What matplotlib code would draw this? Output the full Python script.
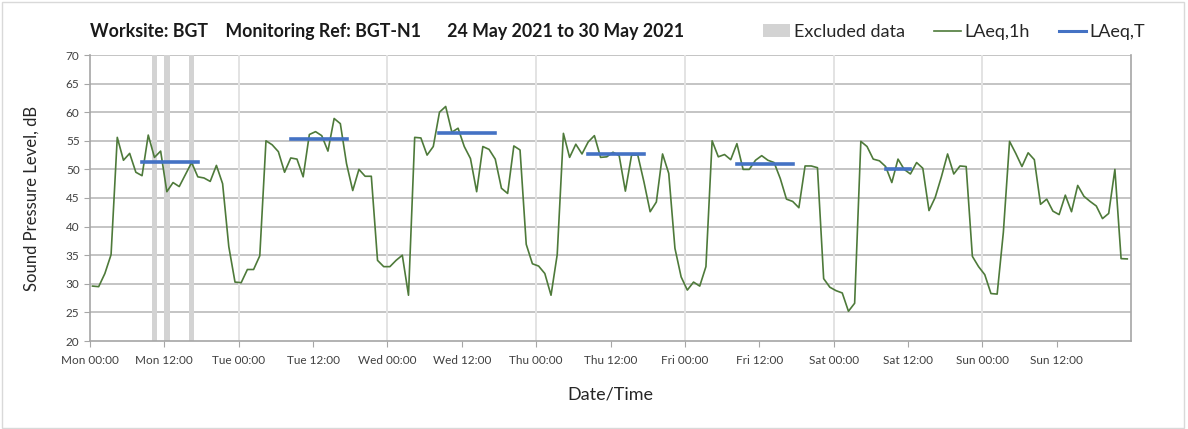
import matplotlib

matplotlib.use("Agg")
import matplotlib.pyplot as plt
import numpy as np
from matplotlib.lines import Line2D
from matplotlib.patches import Patch, Rectangle

plt.rcParams["font.family"] = ["Lato", "DejaVu Sans"]

# hourly LAeq,1h values, Mon 00:00 .. Sun 23:00
laeq_1h = [
    29.6, 29.5, 31.8, 35.1, 55.6, 51.6, 52.8, 49.5, 48.9, 56.0, 52.1, 53.2,
    46.1, 47.7, 47.0, 49.1, 51.2, 48.7, 48.5, 47.9, 50.7, 47.5, 36.5, 30.3,
    30.2, 32.5, 32.5, 34.9, 55.0, 54.3, 53.1, 49.5, 52.0, 51.8, 48.7, 56.1,
    56.6, 55.9, 53.2, 58.9, 58.0, 51.0, 46.3, 50.0, 48.8, 48.8, 34.1, 33.0,
    33.0, 34.1, 35.0, 28.0, 55.6, 55.5, 52.5, 54.0, 60.0, 61.0, 56.5, 57.2,
    54.0, 51.9, 46.1, 54.0, 53.5, 51.8, 46.7, 45.8, 54.1, 53.4, 36.9, 33.5,
    33.1, 31.8, 28.0, 35.1, 56.3, 52.1, 54.4, 52.7, 54.8, 55.9, 52.1, 52.2,
    53.0, 52.4, 46.2, 52.5, 52.5, 47.8, 42.6, 44.3, 52.7, 49.3, 36.2, 31.2,
    28.9, 30.3, 29.6, 33.0, 55.0, 52.2, 52.6, 51.7, 54.5, 50.0, 50.0, 51.6,
    52.4, 51.6, 51.2, 48.4, 44.8, 44.4, 43.3, 50.6, 50.6, 50.3, 30.9, 29.4,
    28.8, 28.4, 25.2, 26.6, 54.9, 54.0, 51.8, 51.5, 50.5, 47.7, 51.8, 50.0,
    49.2, 51.2, 50.2, 42.8, 45.1, 48.7, 52.7, 49.2, 50.6, 50.5, 34.8, 33.0,
    31.6, 28.3, 28.2, 39.0, 54.9, 52.8, 50.5, 52.9, 51.7, 43.9, 44.8, 42.7,
    42.1, 45.5, 42.6, 47.2, 45.3, 44.4, 43.6, 41.4, 42.3, 50.0, 34.4, 34.35,
]

# LAeq,T per day: day index, first hour, last hour, level
period_day = [0, 1, 2, 3, 4, 5]
period_start = [8, 8, 8, 8, 8, 8]
period_end = [17, 17, 17, 17, 17, 12]
period_level = [51.3, 55.3, 56.3, 52.7, 50.9, 50.0]

# hours of excluded data (Mon)
excluded_hours = [10, 12, 16]

day_names = ["Mon", "Tue", "Wed", "Thu", "Fri", "Sat", "Sun"]
title = "Worksite: BGT    Monitoring Ref: BGT-N1      24 May 2021 to 30 May 2021"

GREEN = "#4e7a3a"
BLUE = "#4472c4"
GREY = "#d3d3d3"
OFFSET = 0.4  # sample timestamps sit slightly after the hour

fig = plt.figure(figsize=(11.88, 4.29), dpi=100)
fig.patches.append(
    Rectangle((0.002, 0.003), 0.995, 0.993, transform=fig.transFigure,
              fill=False, edgecolor="#d9d9d9", linewidth=1.0)
)
ax = fig.add_axes([90 / 1188, 1 - 341 / 429, (1131 - 90) / 1188, (341 - 55) / 429])

for h in excluded_hours:
    ax.axvspan(h + OFFSET - 0.43, h + OFFSET + 0.43, color=GREY, linewidth=0, zorder=1)

x = np.arange(len(laeq_1h)) + OFFSET
ax.plot(x, laeq_1h, color=GREEN, linewidth=1.2, zorder=3)

for d, s, e, lv in zip(period_day, period_start, period_end, period_level):
    ax.plot([d * 24 + s + OFFSET, d * 24 + e + OFFSET], [lv, lv], color=BLUE,
            linewidth=2.6, solid_capstyle="projecting", zorder=4)

ax.set_xlim(0, 168)
ax.set_ylim(20, 70)
ax.set_yticks(np.arange(20, 71, 5))
ax.set_xticks(np.arange(0, 168, 12))
ax.set_xticklabels([f"{day_names[int(t // 24)]} {int(t % 24):02d}:00" for t in np.arange(0, 168, 12)])
ax.tick_params(axis="both", labelsize=8.5, colors="#404040", length=4, color="#a6a6a6")
ax.tick_params(axis="x", pad=6)

for yv in np.arange(25, 71, 5):
    ax.axhline(yv, color="#c4c4c4", linewidth=1.4, zorder=0)
for d in range(1, 7):
    ax.axvline(d * 24, color="#e3e3e3", linewidth=1.4, zorder=0)

for side in ["left", "bottom", "right"]:
    ax.spines[side].set_color("#a6a6a6")
    ax.spines[side].set_linewidth(1.2)
ax.spines["top"].set_visible(False)

ax.set_ylabel("Sound Pressure Level, dB", fontsize=12, color="#262626", va="center")
ax.yaxis.set_label_coords(-58 / 1041, 0.5)
ax.set_xlabel("Date/Time", fontsize=13, color="#262626", va="center")
ax.xaxis.set_label_coords(0.5, -54 / 286)

fig.text(90 / 1188, 1 - 32 / 429, title, fontsize=12.8, fontweight="bold",
         ha="left", va="center", color="#1a1a1a")

handles = [
    Patch(facecolor=GREY, edgecolor="none", label="Excluded data"),
    Line2D([], [], color=GREEN, linewidth=1.2, label="LAeq,1h"),
    Line2D([], [], color=BLUE, linewidth=2.2, label="LAeq,T"),
]
fig.legend(handles=handles, loc="center right", bbox_to_anchor=(1145 / 1188, 1 - 32 / 429),
           ncol=3, frameon=False, fontsize=13, handlelength=1.5, handletextpad=0.2,
           columnspacing=1.6, borderpad=0, borderaxespad=0, labelcolor="#262626")

fig.savefig("out.png", dpi=100)
plt.close(fig)
